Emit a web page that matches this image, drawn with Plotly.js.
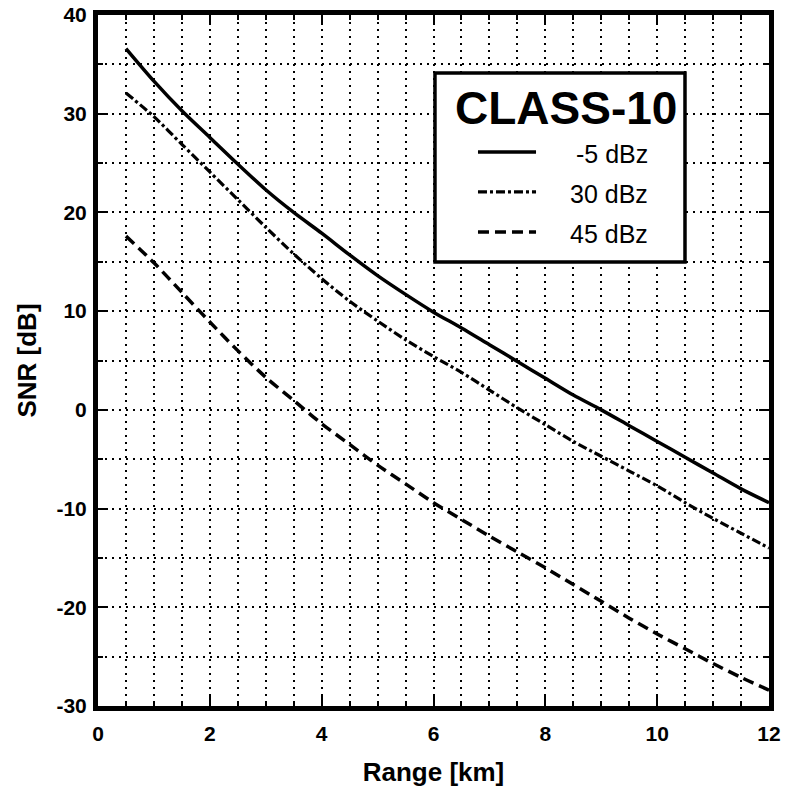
<!DOCTYPE html>
<html>
<head>
<meta charset="utf-8">
<script src="https://cdn.plot.ly/plotly-3.0.1.min.js"></script>
<style>
  html, body { margin: 0; padding: 0; background: #fff; }
  #chart { width: 786px; height: 798px; }
</style>
</head>
<body>
<div id="chart"></div>
<script>
// Range [km]
const rangeKm = [0.5, 1, 1.5, 2, 2.5, 3, 3.5, 4, 4.5, 5, 5.5, 6, 6.5, 7, 7.5, 8, 8.5, 9, 9.5, 10, 10.5, 11, 11.5, 12];
// SNR [dB] for each reflectivity
const snrMinus5 = [36.6, 33.3, 30.3, 27.6, 24.9, 22.3, 20.0, 17.9, 15.7, 13.6, 11.7, 9.9, 8.3, 6.6, 4.9, 3.2, 1.5, 0.0, -1.6, -3.2, -4.8, -6.4, -8.0, -9.4];
const snr30 = [32.1, 29.7, 26.9, 24.1, 21.3, 18.5, 15.8, 13.3, 11.0, 9.0, 7.1, 5.4, 3.8, 2.0, 0.2, -1.5, -3.2, -4.7, -6.2, -7.7, -9.4, -11.0, -12.5, -14.0];
const snr45 = [17.6, 14.9, 11.9, 8.9, 6.0, 3.3, 0.95, -1.4, -3.5, -5.6, -7.5, -9.4, -11.1, -12.8, -14.4, -16.0, -17.7, -19.4, -21.1, -22.7, -24.2, -25.7, -27.1, -28.4];
const seriesNames = ['-5 dBz', '30 dBz', '45 dBz'];
const legendTitle = 'CLASS-10';
const xTitle = 'Range [km]';
const yTitle = 'SNR [dB]';
const xTickVals = [0, 2, 4, 6, 8, 10, 12];
const xTickText = ['0', '2', '4', '6', '8', '10', '12'];
const yTickVals = [-30, -20, -10, 0, 10, 20, 30, 40];
const yTickText = ['-30', '-20', '-10', '0', '10', '20', '30', '40'];

const FONT = '"Liberation Sans", Arial, Helvetica, sans-serif';
const dashStyles = ['solid', '9px,3px,3px,3px', '11px,6px'];
const lineWidths = [3.5, 3.2, 3.5];
const seriesY = [snrMinus5, snr30, snr45];

const traces = seriesY.map((ys, i) => ({
  x: rangeKm, y: ys, name: seriesNames[i], mode: 'lines', showlegend: false,
  line: { color: '#000', width: lineWidths[i], dash: dashStyles[i], shape: 'spline', smoothing: 0.8 }
}));

const gridCommon = {
  showgrid: true, gridcolor: '#000', gridwidth: 2, griddash: '2px,5px',
  showline: true, linecolor: '#000', linewidth: 5, mirror: 'allticks',
  ticks: 'inside', ticklen: 10, tickwidth: 2, tickcolor: '#000',
  zeroline: false, tickmode: 'array',
  tickfont: { family: FONT, size: 21, color: '#000', weight: 700 }
};
const minorCommon = { ticks: 'inside', ticklen: 5, tickwidth: 2, tickcolor: '#000',
  showgrid: true, gridcolor: '#000', gridwidth: 2, griddash: '2px,5px' };

// Legend box drawn in paper coordinates (key box, not data)
const box = { x0: 0.5022, x1: 0.8748, y0: 0.6425, y1: 0.9161 };
const sampleX = [0.5663, 0.6528];
const entryY = [0.8017, 0.7439, 0.6860];
const textRight = 0.8227;

const shapes = [
  { type: 'rect', xref: 'paper', yref: 'paper', x0: box.x0, x1: box.x1, y0: box.y0, y1: box.y1,
    fillcolor: '#fff', line: { color: '#000', width: 3.5 }, layer: 'above' }
].concat(entryY.map((yy, i) => ({
  type: 'line', xref: 'paper', yref: 'paper', x0: sampleX[0], x1: sampleX[1], y0: yy, y1: yy,
  line: { color: '#000', width: lineWidths[i], dash: dashStyles[i] }, layer: 'above'
})));

const annotations = [
  { xref: 'paper', yref: 'paper', x: 0.698, y: 1 - (108 - 15) / 691, xanchor: 'center', yanchor: 'middle',
    text: legendTitle, showarrow: false,
    font: { family: FONT, size: 46, color: '#000', weight: 700 } }
].concat(entryY.map((yy, i) => ({
  xref: 'paper', yref: 'paper', x: textRight, y: yy - 0.003, xanchor: 'right', yanchor: 'middle',
  text: seriesNames[i], showarrow: false,
  font: { family: FONT, size: 25, color: '#000' }
})));

const layout = {
  width: 786, height: 798,
  margin: { l: 98, r: 17, t: 15, b: 92 },
  paper_bgcolor: '#fff', plot_bgcolor: '#fff',
  font: { family: FONT, color: '#000' },
  showlegend: false,
  xaxis: Object.assign({}, gridCommon, {
    range: [0, 12], tickvals: xTickVals, ticktext: xTickText, ticklabelstandoff: 5,
    minor: Object.assign({ dtick: 0.5, tick0: 0 }, minorCommon),
    title: { text: xTitle, standoff: 20, font: { family: FONT, size: 26, color: '#000', weight: 700 } }
  }),
  yaxis: Object.assign({}, gridCommon, {
    range: [-30, 40], tickvals: yTickVals, ticktext: yTickText, ticklabelstandoff: 2,
    minor: Object.assign({ dtick: 5, tick0: 0 }, minorCommon),
    title: { text: yTitle, standoff: 14, font: { family: FONT, size: 26, color: '#000', weight: 700 } }
  }),
  shapes: shapes,
  annotations: annotations
};

Plotly.newPlot('chart', traces, layout, { displayModeBar: false, staticPlot: true });
</script>
</body>
</html>
